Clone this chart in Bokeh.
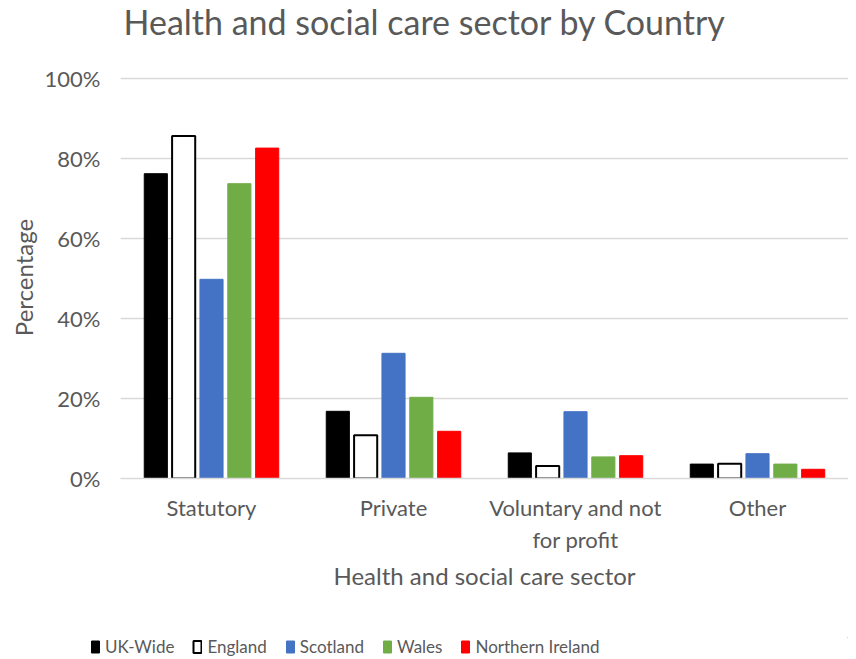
from bokeh.plotting import figure
from bokeh.layouts import column
from bokeh.core.properties import value
from bokeh.models import ColumnDataSource, FixedTicker, PrintfTickFormatter, Legend, LegendItem
from bokeh.embed import file_html
from bokeh.resources import INLINE

categories = ["Statutory", "Private", "Voluntary and not\nfor profit", "Other"]
series = ["UK-Wide", "England", "Scotland", "Wales", "Northern Ireland"]
uk_wide = [76.2, 16.8, 6.4, 3.6]
england = [85.6, 10.8, 3.1, 3.7]
scotland = [49.8, 31.3, 16.7, 6.2]
wales = [73.7, 20.3, 5.4, 3.6]
northern_ireland = [82.6, 11.8, 5.7, 2.3]
y_ticks = [0, 20, 40, 60, 80, 100]
chart_title = "Health and social care sector by Country"

values = [uk_wide, england, scotland, wales, northern_ireland]
fills = ["#000000", "#ffffff", "#4472c4", "#70ad47", "#ff0000"]
lines = ["#000000", "#000000", "#4472c4", "#70ad47", "#ff0000"]
line_widths = [1, 2, 1, 1, 1]

FONT = "Lato"
GRAY = "#595959"
W = 848

# Title strip
TH = 46
tf = figure(width=W, height=TH, output_backend="svg", toolbar_location=None,
            x_range=(0, W), y_range=(TH, 0), min_border=0,
            x_axis_type=None, y_axis_type=None)
tf.frame_align = False
tf.grid.visible = False
tf.outline_line_color = None
tf.text(x=[123], y=[21], text=[chart_title], text_font=value(FONT), text_font_size="34px",
        text_color=GRAY, text_baseline="middle", text_align="left")

# Main chart
p = figure(width=W, height=591, output_backend="svg", toolbar_location=None,
           x_range=(-0.5, 3.5), y_range=(0, 100.5),
           min_border_left=120, min_border_right=0, min_border_top=30, min_border_bottom=159)
p.outline_line_color = None
p.background_fill_color = "white"

step = 0.153
bw = 0.127
xs = list(range(len(categories)))
for i, (name, vals) in enumerate(zip(series, values)):
    src = ColumnDataSource(dict(x=[x + (i - 2) * step for x in xs], top=vals))
    p.vbar(x="x", top="top", width=bw, bottom=0, source=src,
           fill_color=fills[i], line_color=lines[i], line_width=line_widths[i])

p.xaxis.ticker = FixedTicker(ticks=xs)
p.xaxis.major_label_overrides = {i: c for i, c in enumerate(categories)}
p.xaxis.major_tick_line_color = None
p.xaxis.minor_tick_line_color = None
p.xaxis.axis_line_color = "#d9d9d9"
p.xaxis.axis_line_width = 1.5
p.xaxis.major_label_text_font = FONT
p.xaxis.major_label_text_font_size = "22px"
p.xaxis.major_label_text_color = GRAY
p.xaxis.major_label_standoff = 9
p.xaxis.axis_label = "Health and social care sector"
p.xaxis.axis_label_text_font = FONT
p.xaxis.axis_label_text_font_size = "24px"
p.xaxis.axis_label_text_font_style = "normal"
p.xaxis.axis_label_text_color = GRAY
p.xaxis.axis_label_standoff = 5

p.yaxis.ticker = FixedTicker(ticks=y_ticks)
p.yaxis.formatter = PrintfTickFormatter(format="%d%%")
p.yaxis.major_tick_line_color = None
p.yaxis.minor_tick_line_color = None
p.yaxis.axis_line_color = None
p.yaxis.major_label_text_font = FONT
p.yaxis.major_label_text_font_size = "22px"
p.yaxis.major_label_text_color = GRAY
p.yaxis.major_label_standoff = 14
p.yaxis.axis_label = "Percentage"
p.yaxis.axis_label_text_font = FONT
p.yaxis.axis_label_text_font_size = "24px"
p.yaxis.axis_label_text_font_style = "normal"
p.yaxis.axis_label_text_color = GRAY
p.yaxis.axis_label_standoff = 4

p.xgrid.grid_line_color = None
p.ygrid.grid_line_color = "#d9d9d9"
p.ygrid.grid_line_width = 1.5
p.ygrid.ticker = FixedTicker(ticks=y_ticks)

# Legend strip
LH = 20
lf = figure(width=W, height=LH, output_backend="svg", toolbar_location=None,
            x_range=(0, 1), y_range=(0, 1), min_border=0,
            x_axis_type=None, y_axis_type=None)
lf.frame_align = False
lf.grid.visible = False
lf.outline_line_color = None
items = []
for i, name in enumerate(series):
    r = lf.vbar(x=[5], top=[5], bottom=[4], width=0.1, fill_color=fills[i], line_color=lines[i],
                line_width=line_widths[i])
    items.append(LegendItem(label=name, renderers=[r]))
legend = Legend(items=items, orientation="horizontal", location=(90, 0),
                label_text_font=FONT, label_text_font_size="17px", label_text_color=GRAY,
                glyph_width=10, glyph_height=15, label_standoff=5, spacing=18, label_height=20,
                border_line_color=None, background_fill_alpha=0, padding=0, margin=0)
lf.add_layout(legend, "center")

open("out.html", "w").write(file_html(column(tf, p, lf, spacing=0), INLINE))
